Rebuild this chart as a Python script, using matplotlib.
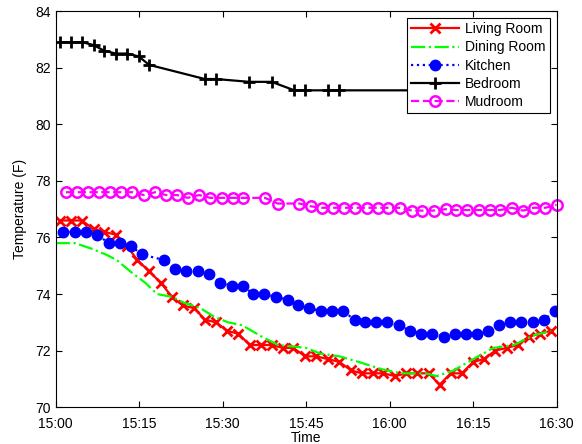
import matplotlib
matplotlib.use("Agg")
import matplotlib.pyplot as plt

plt.rcParams['font.family'] = ['Liberation Sans', 'DejaVu Sans']

# minutes after 15:00 and temperatures (F)
living_t = [0.8, 2.8, 4.7, 6.8, 8.7, 10.8, 12.8, 14.7, 16.8, 18.9, 20.9, 22.8, 24.9,
            26.8, 28.8, 30.8, 32.8, 34.9, 36.9, 38.8, 40.8, 42.7, 44.8, 46.8, 49.0,
            51.0, 53.1, 55.0, 57.0, 58.9, 61.0, 63.0, 64.9, 67.0, 69.0, 71.0, 73.0,
            75.0, 76.9, 79.0, 81.1, 83.0, 85.0, 87.0, 89.0]
living = [76.6, 76.6, 76.6, 76.3, 76.2, 76.1, 75.7, 75.2, 74.8, 74.4, 73.9, 73.6, 73.5,
          73.1, 73.0, 72.7, 72.6, 72.2, 72.2, 72.2, 72.1, 72.1, 71.8, 71.8, 71.7,
          71.6, 71.3, 71.2, 71.2, 71.2, 71.1, 71.2, 71.2, 71.2, 70.8, 71.2, 71.2,
          71.6, 71.7, 72.0, 72.1, 72.2, 72.5, 72.6, 72.7]

dining_t = [0, 3.5, 6.5, 9.0, 11.0, 13.4, 16.1, 18.2, 21.0, 23.0, 26.0, 28.5, 31.0,
            33.5, 37.0, 40.0, 45.0, 47.5, 51.0, 54.5, 58.5, 62.0, 66.5, 68.5, 71.5,
            75.0, 78.7, 82.3, 86.0, 89.0]
dining = [75.8, 75.8, 75.6, 75.4, 75.2, 74.8, 74.4, 74.0, 73.9, 73.7, 73.5, 73.2, 73.0,
          72.9, 72.5, 72.2, 72.1, 71.9, 71.8, 71.6, 71.35, 71.2, 71.2, 71.1, 71.3,
          71.7, 72.1, 72.2, 72.55, 72.7]

kitchen_t = [1.4, 3.5, 5.5, 7.5, 9.5, 11.5, 13.5, 15.5, 19.5, 21.5, 23.5, 25.5, 27.5,
             29.6, 31.6, 33.6, 35.5, 37.5, 39.6, 41.7, 43.5, 45.6, 47.7, 49.6, 51.6,
             53.7, 55.6, 57.6, 59.6, 61.7, 63.7, 65.7, 67.7, 69.7, 71.7, 73.7, 75.7,
             77.7, 79.7, 81.7, 83.7, 85.7, 87.7, 89.8]
kitchen = [76.2, 76.2, 76.2, 76.1, 75.8, 75.8, 75.7, 75.4, 75.2, 74.9, 74.8, 74.8, 74.7,
           74.4, 74.3, 74.3, 74.0, 74.0, 73.9, 73.8, 73.6, 73.5, 73.4, 73.4, 73.4,
           73.1, 73.0, 73.0, 73.0, 72.9, 72.7, 72.6, 72.6, 72.5, 72.6, 72.6, 72.6,
           72.7, 72.9, 73.0, 73.0, 73.0, 73.1, 73.4]

bedroom_t = [0.8, 2.8, 4.8, 6.8, 8.7, 10.8, 12.8, 14.9, 16.8, 26.8, 28.8, 34.8, 38.8,
             42.9, 44.8, 49.0, 50.9, 70.8, 84.8]
bedroom = [82.9, 82.9, 82.9, 82.8, 82.6, 82.5, 82.5, 82.4, 82.1, 81.6, 81.6, 81.5, 81.5,
           81.2, 81.2, 81.2, 81.2, 81.2, 81.2]

mudroom_t = [1.85, 3.8, 5.8, 7.8, 9.8, 11.7, 13.8, 15.8, 17.9, 19.8, 21.8, 23.7, 25.8,
             27.8, 29.9, 31.8, 33.7, 37.6, 39.9, 43.8, 45.9, 47.8, 49.8, 51.9, 53.8,
             55.9, 57.9, 59.8, 61.9, 64.0, 65.9, 67.9, 70.1, 72.0, 73.9, 76.0, 78.0,
             79.9, 82.0, 84.0, 85.9, 88.0, 90.0]
mudroom = [77.6, 77.6, 77.6, 77.6, 77.6, 77.6, 77.6, 77.5, 77.6, 77.5, 77.5, 77.4, 77.5,
           77.4, 77.4, 77.4, 77.4, 77.4, 77.2, 77.2, 77.1, 77.05, 77.05, 77.05, 77.05,
           77.05, 77.05, 77.05, 77.05, 76.95, 76.95, 76.95, 77.0, 76.97, 76.97, 76.97, 76.97,
           76.97, 77.05, 76.95, 77.05, 77.05, 77.15]

tick_pos = [0, 15, 30, 45, 60, 75, 90]
tick_labels = ['15:00', '15:15', '15:30', '15:45', '16:00', '16:15', '16:30']

fig = plt.figure(figsize=(5.82, 4.44), dpi=100)
ax = fig.add_axes([0.0957, 0.0827, 0.8605, 0.8923])

ax.plot(living_t, living, '-', color='red', lw=1.6, marker='x', ms=6.5, mew=2,
        label='Living Room')
ax.plot(dining_t, dining, '-.', color='#00ff00', lw=1.6, label='Dining Room')
ax.plot(kitchen_t, kitchen, ':', color='blue', lw=1.6, marker='o', ms=7.5,
        label='Kitchen')
ax.plot(bedroom_t, bedroom, '-', color='black', lw=1.6, marker='+', ms=8, mew=2,
        label='Bedroom')
ax.plot(mudroom_t, mudroom, '--', color='magenta', lw=1.6, marker='o', ms=7.5, mew=1.8,
        mfc='none', label='Mudroom', clip_on=False)

ax.set_xlim(0, 90)
ax.set_ylim(70, 84)
ax.set_xticks(tick_pos)
ax.set_xticklabels(tick_labels)
ax.set_yticks(range(70, 85, 2))
ax.tick_params(direction='in', top=True, right=True, length=4, labelsize=10)
ax.tick_params(axis='x', pad=7)
ax.set_xlabel('Time', fontsize=10, labelpad=0)
ax.set_ylabel('Temperature (F)', fontsize=10, labelpad=6)

leg = ax.legend(loc='upper right', fontsize=10, handlelength=3.5, handletextpad=0.4,
                labelspacing=0.3, borderaxespad=0.5, borderpad=0.3, fancybox=False,
                framealpha=1, edgecolor='black')
leg.get_frame().set_linewidth(0.8)

fig.savefig('out.png', dpi=100)
